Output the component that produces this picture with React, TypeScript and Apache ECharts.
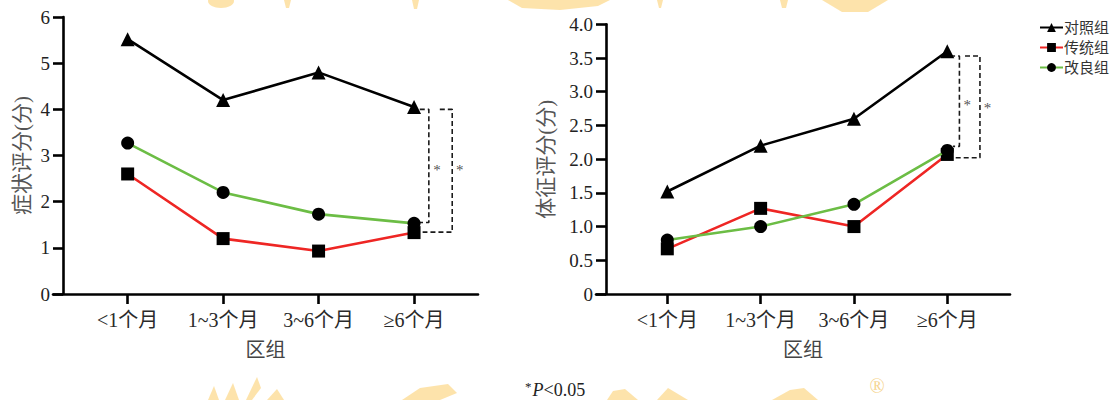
import React, { useEffect, useRef } from "react";
import * as echarts from "echarts";

// ---------- data ----------
const categories = ["<1个月", "1~3个月", "3~6个月", "≥6个月"];
const groupNames = ["对照组", "传统组", "改良组"];

const symptomControl = [5.52, 4.2, 4.8, 4.05];
const symptomTraditional = [2.6, 1.2, 0.93, 1.33];
const symptomImproved = [3.27, 2.2, 1.73, 1.53];

const signControl = [1.52, 2.2, 2.6, 3.6];
const signTraditional = [0.67, 1.27, 1.0, 2.07];
const signImproved = [0.8, 1.0, 1.33, 2.13];

// significance brackets (top, inner bottom, outer bottom) in value units
const symptomBracketY = [4.0, 1.55, 1.34];
const signBracketY = [3.53, 2.19, 2.02];

const xAxisTitle = "区组";
const symptomTitle = "症状评分(分)";
const signTitle = "体征评分(分)";

// ---------- styles ----------
const SERIF = "Liberation Serif, Noto Sans CJK SC, serif";
const LINE_COLORS = ["#000000", "#ee2624", "#6cbd45"];
const SYMBOLS = ["triangle", "rect", "circle"];
const SYMBOL_SIZES = [14, 13, 13];

const toPts = (arr: number[]) => arr.map((v, i) => [i, v]);

function bracketSeries(gridIdx: number, ys: number[], inner: number[], outer: number[]) {
  const [top, bIn, bOut] = ys;
  const style = { color: "#1a1a1a", width: 1.6, type: [5, 3] as any };
  const mk = (pts: number[][]) => ({
    type: "line",
    xAxisIndex: gridIdx,
    yAxisIndex: gridIdx,
    symbol: "none",
    silent: true,
    lineStyle: style,
    z: 1,
    data: pts,
  });
  return [
    mk([[inner[0], top], [inner[1], top], [inner[1], bIn], [inner[2], bIn]]),
    mk([[outer[0], top], [outer[1], top], [outer[1], bOut], [outer[2], bOut]]),
  ];
}

function starSeries(gridIdx: number, pts: number[][]) {
  return {
    type: "scatter",
    xAxisIndex: gridIdx,
    yAxisIndex: gridIdx,
    silent: true,
    symbolSize: 1,
    itemStyle: { color: "rgba(255,255,255,0)" },
    label: {
      show: true,
      position: "inside",
      formatter: "*",
      fontFamily: SERIF,
      fontSize: 15,
      color: "#222222",
      textBorderWidth: 0,
      offset: [0, 3],
    },
    data: pts,
  };
}

function mainSeries(gridIdx: number, values: number[][]) {
  return values.map((vals, k) => ({
    name: groupNames[k],
    type: "line",
    xAxisIndex: gridIdx,
    yAxisIndex: gridIdx,
    symbol: SYMBOLS[k],
    symbolSize: SYMBOL_SIZES[k],
    itemStyle: { color: "#000" },
    lineStyle: { color: LINE_COLORS[k], width: 2.6 },
    z: 3 + k,
    data: toPts(vals),
  }));
}

function xAxis(gridIdx: number, min: number, max: number) {
  return {
    type: "value",
    gridIndex: gridIdx,
    min,
    max,
    splitLine: { show: false },
    axisLine: { show: true, onZero: false, lineStyle: { color: "#000", width: 2.6 } },
    axisTick: {
      show: true,
      length: 10,
      customValues: [0, 1, 2, 3],
      lineStyle: { color: "#000", width: 2.6 },
    },
    axisLabel: {
      customValues: [0, 1, 2, 3],
      formatter: (v: number) => categories[Math.round(v)] ?? "",
      fontFamily: SERIF,
      fontSize: 20,
      color: "#2a2a2a",
      margin: 16,
    },
    name: xAxisTitle,
    nameLocation: "middle",
    nameGap: 46,
    nameTextStyle: { fontFamily: SERIF, fontSize: 20, color: "#444" },
  };
}

function yAxis(
  gridIdx: number,
  max: number,
  interval: number,
  title: string,
  nameGap: number,
  fmt: (v: number) => string
) {
  return {
    type: "value",
    gridIndex: gridIdx,
    min: 0,
    max,
    interval,
    offset: -10,
    splitLine: { show: false },
    axisLine: { show: true, onZero: false, lineStyle: { color: "#000", width: 2.6 } },
    axisTick: { show: true, length: 10, lineStyle: { color: "#000", width: 2.6 } },
    axisLabel: {
      formatter: fmt,
      fontFamily: SERIF,
      fontSize: 19,
      color: "#222",
      margin: 13,
    },
    name: title,
    nameLocation: "middle",
    nameRotate: 90,
    nameGap,
    nameTextStyle: { fontFamily: SERIF, fontSize: 21, color: "#555" },
  };
}

// decorative faint watermark fragments
const WM = "#fcdc96";
const watermark: any[] = [
  { type: "ellipse", shape: { cx: 221, cy: 1, rx: 13, ry: 7 } },
  { type: "polygon", shape: { points: [[284, 0], [291, 0], [289, 8], [286, 8]] } },
  { type: "polygon", shape: { points: [[412, 0], [419, 0], [417, 9], [414, 9]] } },
  { type: "polygon", shape: { points: [[508, 0], [610, 0], [598, 6], [560, 10], [522, 8]] } },
  { type: "polygon", shape: { points: [[657, 0], [663, 0], [661, 8], [659, 8]] } },
  { type: "polygon", shape: { points: [[780, 0], [788, 0], [786, 8], [782, 8]] } },
  { type: "polygon", shape: { points: [[822, 0], [888, 0], [868, 12], [842, 12]] } },
  { type: "polygon", shape: { points: [[208, 400], [214, 386], [219, 400]] } },
  { type: "polygon", shape: { points: [[225, 400], [233, 383], [239, 400]] } },
  { type: "polygon", shape: { points: [[246, 400], [257, 377], [261, 388], [252, 400]] } },
  { type: "polygon", shape: { points: [[267, 400], [277, 389], [284, 400]] } },
  { type: "polygon", shape: { points: [[402, 400], [420, 388], [448, 384], [457, 393], [440, 400]] } },
  { type: "polygon", shape: { points: [[607, 400], [613, 391], [625, 389], [638, 400]] } },
  { type: "polygon", shape: { points: [[657, 400], [668, 388], [688, 400]] } },
  { type: "polygon", shape: { points: [[772, 400], [790, 390], [804, 388], [818, 400]] } },
].map((g) => ({ ...g, silent: true, z: -10, style: { fill: WM, opacity: 0.8 } }));

export default function App() {
  const ref = useRef<HTMLDivElement>(null);

  useEffect(() => {
    if (!ref.current) return;
    const chart = echarts.init(ref.current, undefined, { renderer: "svg" });

    const option: any = {
      animation: false,
      backgroundColor: "#ffffff",
      textStyle: { fontFamily: SERIF },
      legend: {
        data: groupNames,
        orient: "vertical",
        left: 1034,
        top: 15,
        itemWidth: 23,
        itemHeight: 11,
        itemGap: 5,
        textStyle: { fontFamily: SERIF, fontSize: 15, color: "#333", padding: [0, 0, 0, -4] },
        selectedMode: false,
      },
      grid: [
        { left: 53, top: 17, width: 425, height: 277 },
        { left: 596, top: 24.3, width: 414, height: 269.7 },
      ],
      xAxis: [xAxis(0, -0.782, 3.67), xAxis(1, -0.764, 3.672)],
      yAxis: [
        yAxis(0, 6, 1, symptomTitle, 31, (v) => String(v)),
        yAxis(1, 4, 0.5, signTitle, 50, (v) => (v === 0 ? "0" : v.toFixed(1))),
      ],
      series: [
        ...bracketSeries(0, symptomBracketY, [3.06, 3.155, 3.06], [3.27, 3.4, 3.09]),
        ...bracketSeries(1, signBracketY, [3.03, 3.13, 3.06], [3.19, 3.35, 3.06]),
        starSeries(0, [[3.24, 2.75], [3.48, 2.75]]),
        starSeries(1, [[3.215, 2.85], [3.43, 2.8]]),
        ...mainSeries(0, [symptomControl, symptomTraditional, symptomImproved]),
        ...mainSeries(1, [signControl, signTraditional, signImproved]),
      ],
      graphic: [
        ...watermark,
        {
          type: "text",
          x: 877,
          y: 386,
          silent: true,
          z: -10,
          style: {
            text: "®",
            fontFamily: SERIF,
            fontSize: 20,
            fill: "#f6d58f",
            align: "center",
            verticalAlign: "middle",
          },
        },
        {
          type: "text",
          x: 525,
          y: 380,
          silent: true,
          style: {
            text: "{s|*}{i|P}{n|<0.05}",
            rich: {
              s: { fontFamily: SERIF, fontSize: 13, fill: "#222", verticalAlign: "top", padding: [0, 1, 6, 0] },
              i: { fontFamily: SERIF, fontSize: 18, fontStyle: "italic", fill: "#222" },
              n: { fontFamily: SERIF, fontSize: 18, fill: "#222" },
            },
          },
        },
      ],
    };

    chart.setOption(option);
    return () => chart.dispose();
  }, []);

  return (
    <div
      ref={ref}
      style={{ position: "fixed", left: 0, top: 0, width: 1112, height: 400, background: "#fff" }}
    />
  );
}
